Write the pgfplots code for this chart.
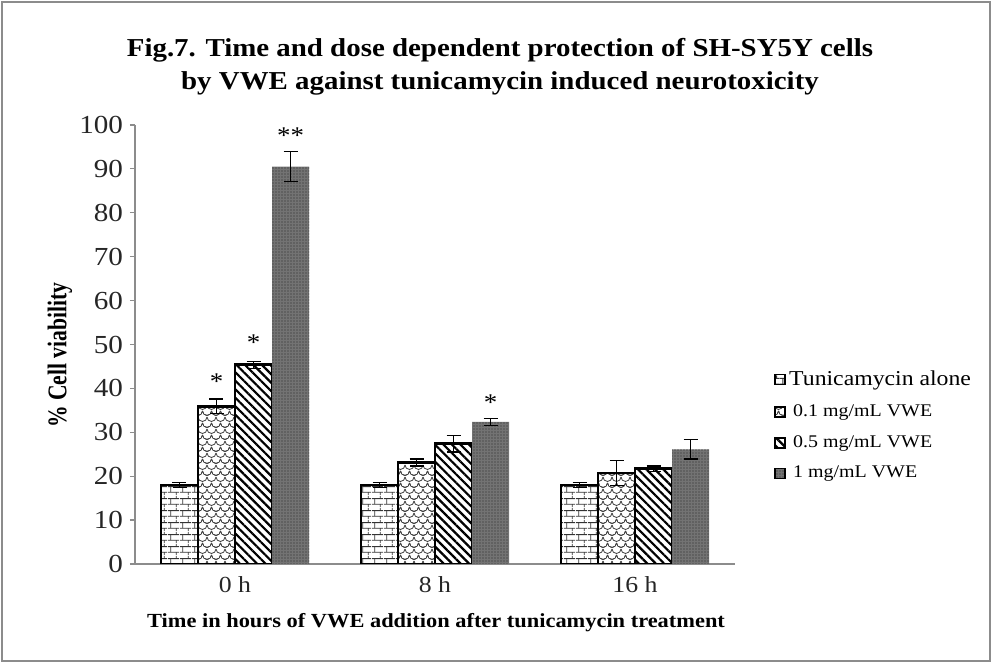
\documentclass[border=0pt]{standalone}
\usepackage{fontspec}
\setmainfont{Liberation Serif}[FakeStretch=1.12]
\newfontfamily\ylabfont{Liberation Serif}[FakeStretch=0.8]
\usepackage{pgfplots}
\usepackage{pgfplotstable}
\pgfplotsset{compat=1.18}
\usetikzlibrary{patterns,patterns.meta}

\tikzdeclarepattern{
  name=mybricks,
  type=uncolored,
  bounding box={(0pt,0pt) and (6pt,6pt)},
  tile size={(6pt,6pt)},
  code={
    \draw[line width=0.45pt] (0pt,1.5pt) -- (6pt,1.5pt);
    \draw[line width=0.45pt] (0pt,4.5pt) -- (6pt,4.5pt);
    \draw[line width=0.45pt] (1.5pt,1.5pt) -- (1.5pt,4.5pt);
    \draw[line width=0.45pt] (4.5pt,4.5pt) -- (4.5pt,6pt);
    \draw[line width=0.45pt] (4.5pt,0pt) -- (4.5pt,1.5pt);
  }
}
\tikzdeclarepattern{
  name=scales,
  type=uncolored,
  bounding box={(-1pt,-1pt) and (5.5pt,7pt)},
  tile size={(4.5pt,6pt)},
  code={
    \draw[line width=0.4pt] (0pt,3pt) arc[start angle=180,end angle=360,radius=2.25pt];
    \draw[line width=0.4pt] (-2.25pt,6pt) arc[start angle=180,end angle=360,radius=2.25pt];
    \draw[line width=0.4pt] (2.25pt,6pt) arc[start angle=180,end angle=360,radius=2.25pt];
    \draw[line width=0.4pt] (-2.25pt,0pt) arc[start angle=180,end angle=360,radius=2.25pt];
    \draw[line width=0.4pt] (2.25pt,0pt) arc[start angle=180,end angle=360,radius=2.25pt];
  }
}

\pgfplotstableread{
x y e
0 18.0 0.5
1 18.0 0.5
2 18.0 0.5
}\tunica
\pgfplotstableread{
x y e
0 35.9 1.7
1 23.1 0.8
2 20.7 2.9
}\lowd
\pgfplotstableread{
x y e
0 45.4 0.8
1 27.4 1.9
2 21.7 0.6
}\midd
\pgfplotstableread{
x y e
0 90.5 3.4
1 32.4 0.8
2 26.1 2.2
}\highd

\begin{document}
\begin{tikzpicture}
\useasboundingbox (0,0) rectangle (496pt,331.5pt);
\draw[black!45, line width=0.6pt] (1pt,1pt) rectangle (495pt,330.5pt);
\node[font=\bfseries\fontsize{12.9}{15}\selectfont, anchor=base] at (250pt,303pt) {Fig.7. Time and dose dependent protection of SH-SY5Y cells};
\node[font=\bfseries\fontsize{12.9}{15}\selectfont, anchor=base] at (250pt,286.5pt) {by VWE against tunicamycin induced neurotoxicity};
\node[font=\bfseries\fontsize{10}{12}\selectfont, anchor=base] at (218pt,17.5pt) {Time in hours of VWE addition after tunicamycin treatment};
\node[font=\ylabfont\bfseries\fontsize{13.5}{15}\selectfont, rotate=90] at (30pt,154pt) {\% Cell viability};
\begin{axis}[
  at={(67.5pt,49.5pt)}, anchor=south west,
  scale only axis, width=300pt, height=219.5pt,
  xmin=-0.5, xmax=2.5, ymin=0, ymax=100,
  axis x line*=bottom, axis y line*=left,
  axis line style={black!45, line width=0.6pt},
  ytick={0,10,...,100},
  xtick={0,1,2}, xticklabels={0 h, 8 h, 16 h},
  extra x ticks={0.5,1.5,2.5}, extra x tick labels={},
  extra x tick style={major tick length=2.5pt, tick style={black!45, line width=0.6pt}},
  tick align=outside,
  x tick style={draw=none},
  y tick style={black!45, line width=0.6pt},
  major tick length=2.5pt,
  /pgf/number format/assume math mode=true,
  yticklabel style={font=\fontsize{13}{14}\selectfont, text=black!85},
  xticklabel style={font=\fontsize{11.5}{13}\selectfont, text=black!85},
  ybar=0pt, bar width=0.185,
  error bars/error bar style={black, line width=0.6pt},
  error bars/error mark options={rotate=90, mark size=3.5pt, black, line width=0.6pt},
  legend style={draw=none, fill=none, at={(rel axis cs:1.065,0.448)}, anchor=north west,
    row sep=5pt, inner sep=0pt, nodes={inner sep=1.5pt}},
  legend cell align=left,
  legend image code/.code={\draw[#1, line width=0.9pt] (0pt,-2.5pt) rectangle (5pt,2.5pt);},
]
\addplot[draw=black, line width=1.3pt, fill=white, pattern=mybricks, pattern color=black!80,
  error bars/.cd, y dir=both, y explicit] table[x=x, y=y, y error=e] {\tunica};
\addlegendentry{\fontsize{10.6}{12}\selectfont Tunicamycin alone}
\addplot[draw=black, line width=1.3pt, pattern=scales, pattern color=black!75,
  error bars/.cd, y dir=both, y explicit] table[x=x, y=y, y error=e] {\lowd};
\addlegendentry{\fontsize{8.9}{10}\selectfont\hspace{2pt}0.1 mg/mL VWE}
\addplot[draw=black, line width=1.3pt, pattern={Lines[angle=-45,distance=3pt,line width=1.1pt]}, pattern color=black,
  error bars/.cd, y dir=both, y explicit] table[x=x, y=y, y error=e] {\midd};
\addlegendentry{\fontsize{8.9}{10}\selectfont\hspace{2pt}0.5 mg/mL VWE}
\addplot[draw=none, fill=black!55, postaction={pattern={Dots[distance=1.5pt,radius=0.35pt]}, pattern color=black!85},
  error bars/.cd, y dir=both, y explicit] table[x=x, y=y, y error=e] {\highd};
\addlegendentry{\fontsize{8.9}{10}\selectfont\hspace{2pt}1 mg/mL VWE}
\node[font=\fontsize{12}{14}\selectfont, anchor=center] at (axis cs:-0.0925,41.5) {*};
\node[font=\fontsize{12}{14}\selectfont, anchor=center] at (axis cs:0.0925,50.5) {*};
\node[font=\fontsize{12}{14}\selectfont, anchor=center] at (axis cs:0.2775,97.5) {**};
\node[font=\fontsize{12}{14}\selectfont, anchor=center] at (axis cs:1.2775,36.8) {*};
\end{axis}
\end{tikzpicture}
\end{document}
